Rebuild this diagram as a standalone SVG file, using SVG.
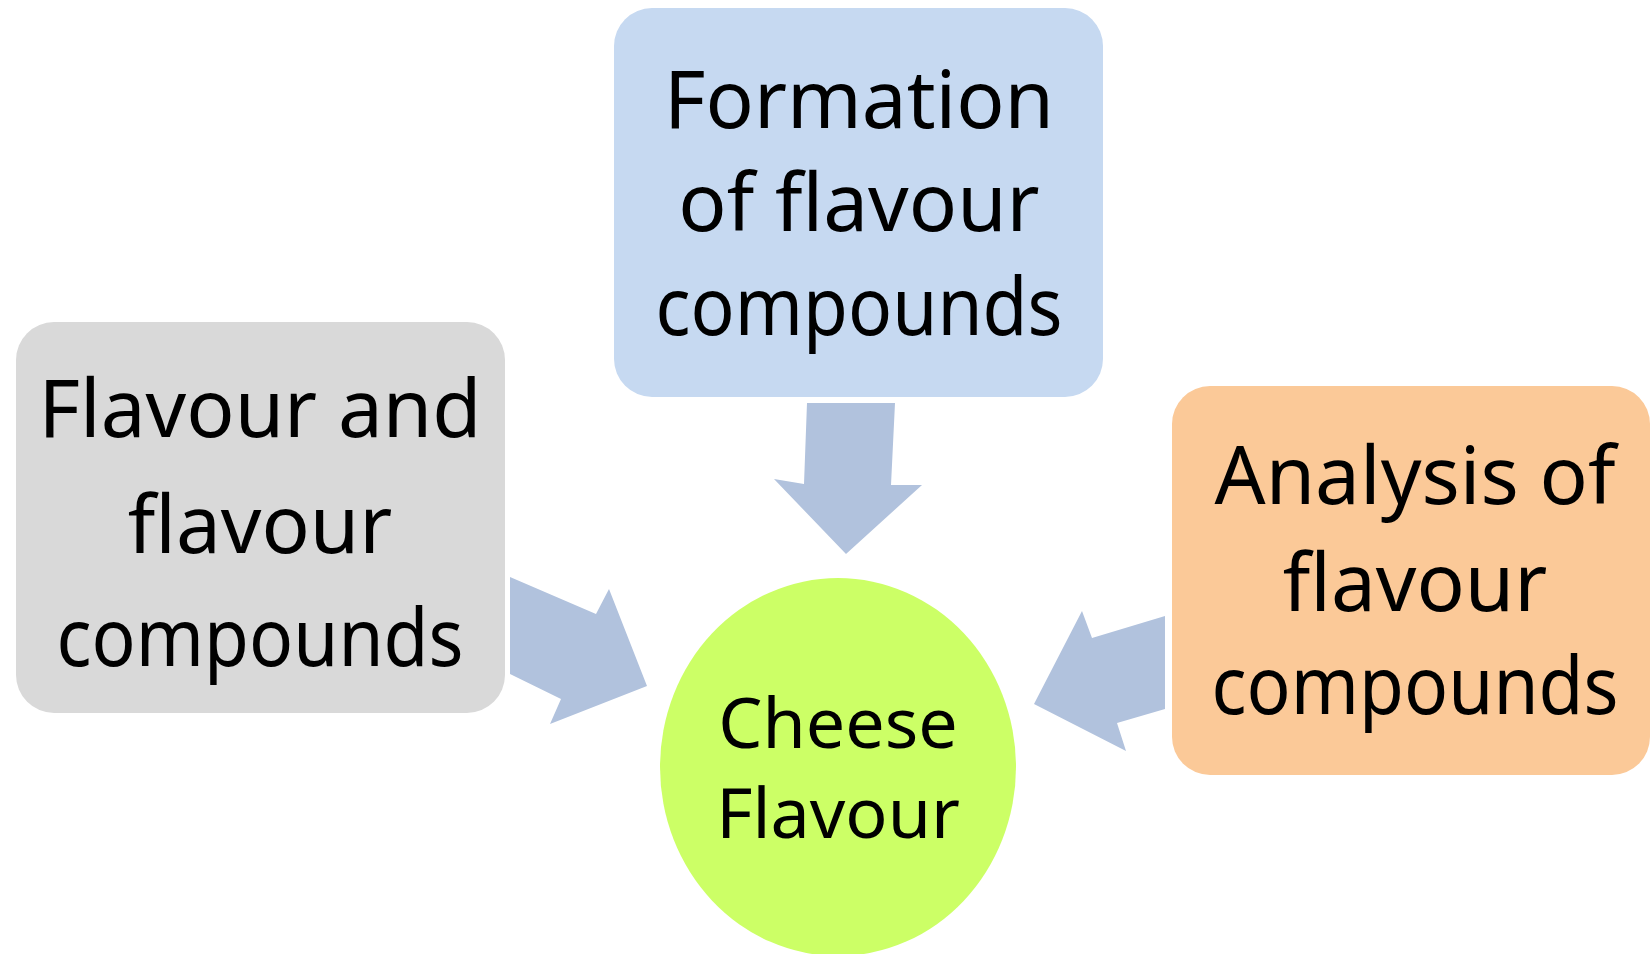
<svg xmlns="http://www.w3.org/2000/svg" width="1652" height="954" viewBox="0 0 1652 954">
<style>
.t{font-family:"Comic Sans MS","Noto Sans",sans-serif;font-size:80px;fill:#000;text-anchor:middle}
.c{font-size:70px}
.arr{fill:#B1C2DD}
</style>
<rect width="1652" height="954" fill="#fff"/>
<g id="connectors">
<polygon class="arr" points="807,403 895,403 891,485 922,485 846,554 774,479 804,484"/>
<polygon class="arr" points="510,577 596,614 609,589 647,686 550,724 561,699 510,674"/>
<polygon class="arr" points="1165,616 1092,638 1082,611 1034,704 1126,751 1117,723 1165,709"/>
</g>
<g id="node-formation">
<rect x="614" y="8" width="489" height="389" rx="38" fill="#C6D9F1"/>
<text class="t" x="859" y="128">Formation</text>
<text class="t" x="859" y="231">of flavour</text>
<text class="t" x="859" y="335" textLength="407" lengthAdjust="spacingAndGlyphs">compounds</text>
</g>
<g id="node-flavour">
<rect x="16" y="322" width="489" height="391" rx="38" fill="#D9D9D9"/>
<text class="t" x="260" y="437">Flavour and</text>
<text class="t" x="260" y="553">flavour</text>
<text class="t" x="260" y="666" textLength="407" lengthAdjust="spacingAndGlyphs">compounds</text>
</g>
<g id="node-analysis">
<rect x="1172" y="386" width="478" height="389" rx="38" fill="#FBC998"/>
<text class="t" x="1415" y="504">Analysis of</text>
<text class="t" x="1415" y="611">flavour</text>
<text class="t" x="1415" y="714" textLength="407" lengthAdjust="spacingAndGlyphs">compounds</text>
</g>
<g id="node-cheese">
<ellipse cx="838" cy="767" rx="178" ry="189" fill="#CCFF66"/>
<text class="t c" x="838" y="748">Cheese</text>
<text class="t c" x="838" y="838">Flavour</text>
</g>
</svg>
